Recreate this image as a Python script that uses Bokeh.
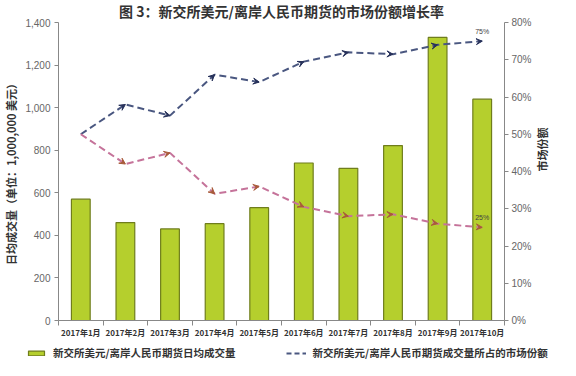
import math
from bokeh.plotting import figure
from bokeh.layouts import column
from bokeh.models import (Range1d, LinearAxis, FixedTicker, PrintfTickFormatter,
                          NumeralTickFormatter, ColumnDataSource, Arrow, VeeHead,
                          Legend, LegendItem)
from bokeh.core.properties import value
from bokeh.embed import file_html
from bokeh.resources import INLINE

# ---------------- data ----------------
months = ["2017年1月", "2017年2月", "2017年3月", "2017年4月", "2017年5月",
          "2017年6月", "2017年7月", "2017年8月", "2017年9月", "2017年10月"]
volume = [570, 460, 430, 455, 530, 740, 715, 822, 1330, 1040]
sgx_share = [50, 58, 55, 66, 64, 69.5, 72, 71.5, 74, 75]
other_share = [50, 42, 45, 34, 36, 30.5, 28, 28.5, 26, 25]
left_ticks = [0, 200, 400, 600, 800, 1000, 1200, 1400]
right_ticks = [0, 10, 20, 30, 40, 50, 60, 70, 80]

title = "图 3：新交所美元/离岸人民币期货的市场份额增长率"
bar_label = "新交所美元/离岸人民币期货日均成交量"
line_label = "新交所美元/离岸人民币期货成交量所占的市场份额"
left_label = "日均成交量（单位：1,000,000 美元）"
right_label = "市场份额"

CJK = "Noto Sans CJK SC"
NUM = "Liberation Sans"

BAR_FILL, BAR_LINE = "#b5cf2d", "#6f7d1c"
BLUE, RED = "#4a5780", "#c5739a"

xs = [i + 0.5 for i in range(len(months))]

p = figure(width=560, height=345, output_backend="svg", toolbar_location=None,
           x_range=Range1d(0, len(months)), y_range=Range1d(0, 1400),
           min_border_left=55, min_border_right=55, min_border_top=19,
           min_border_bottom=25)
p.extra_y_ranges = {"share": Range1d(0, 80)}
p.outline_line_color = None
p.grid.visible = False

p.title.text = title
p.title.align = "center"
p.title.vertical_align = "top"
p.title.text_font = CJK
p.title.text_font_size = "14px"
p.title.text_font_style = "bold"
p.title.text_color = "#333333"
p.title.offset = 0
p.title.standoff = 0

# bars
src = ColumnDataSource(dict(x=xs, v=volume, s1=sgx_share, s2=other_share))
p.vbar(x="x", top="v", width=0.42, source=src, fill_color=BAR_FILL,
       line_color=BAR_LINE, line_width=1.2)

# lines
p.line("x", "s1", source=src, y_range_name="share", line_color=BLUE,
       line_width=2, line_dash="7 4")
p.line("x", "s2", source=src, y_range_name="share", line_color=RED,
       line_width=2, line_dash="7 4")

for ys, col in [(sgx_share, "#27315a"), (other_share, "#a85a3a")]:
    asrc = ColumnDataSource(dict(x0=xs[:-1], y0=ys[:-1], x1=xs[1:], y1=ys[1:]))
    arr = Arrow(end=VeeHead(size=6, fill_color=col, line_color=col, line_width=1),
                x_start="x0", y_start="y0", x_end="x1", y_end="y1",
                source=asrc, line_alpha=0, y_range_name="share")
    p.add_layout(arr)

# end labels
for ys in (sgx_share, other_share):
    p.text(x=[xs[-1]], y=[ys[-1]], text=[f"{ys[-1]:.0f}%"],
           y_range_name="share", text_font=value(NUM), text_font_size="7px",
           text_color="#444444", text_align="center", text_baseline="bottom",
           y_offset=-6)

# x axis
xa = p.xaxis[0]
xa.ticker = FixedTicker(ticks=xs, minor_ticks=list(range(len(months) + 1)))
xa.major_label_overrides = {x: m for x, m in zip(xs, months)}
xa.major_tick_line_color = None
xa.major_tick_out = 0
xa.major_tick_in = 0
xa.minor_tick_out = 5
xa.minor_tick_in = 0
xa.minor_tick_line_color = "#888888"
xa.axis_line_color = "#888888"
xa.major_label_text_font = CJK
xa.major_label_text_font_size = "8px"
xa.major_label_text_font_style = "bold"
xa.major_label_text_color = "#333333"
xa.major_label_standoff = 1

# left axis
ya = p.yaxis[0]
ya.ticker = FixedTicker(ticks=left_ticks)
ya.formatter = NumeralTickFormatter(format="0,0")
ya.axis_line_color = "#888888"
ya.major_tick_line_color = "#888888"
ya.major_tick_out = 4
ya.major_tick_in = 0
ya.minor_tick_line_color = None
ya.major_label_text_font = NUM
ya.major_label_text_font_size = "10px"
ya.major_label_text_color = "#666666"
ya.major_label_standoff = 4
ya.axis_label = left_label
ya.axis_label_text_font = CJK
ya.axis_label_text_font_size = "11px"
ya.axis_label_text_font_style = "bold"
ya.axis_label_text_color = "#333333"
ya.axis_label_standoff = 3

# right axis
ra = LinearAxis(y_range_name="share", ticker=FixedTicker(ticks=right_ticks),
                formatter=PrintfTickFormatter(format="%d%%"))
ra.axis_line_color = "#888888"
ra.major_tick_line_color = "#888888"
ra.major_tick_out = 4
ra.major_tick_in = 0
ra.minor_tick_line_color = None
ra.major_label_text_font = NUM
ra.major_label_text_font_size = "10px"
ra.major_label_text_color = "#666666"
ra.major_label_standoff = 3
ra.axis_label = right_label
ra.axis_label_orientation = math.pi / 2
ra.axis_label_text_font = CJK
ra.axis_label_text_font_size = "11px"
ra.axis_label_text_font_style = "bold"
ra.axis_label_text_color = "#333333"
ra.axis_label_standoff = 7
p.add_layout(ra, "right")

# legend strip (separate figure so the legend can span the full width)
q = figure(width=560, height=15, output_backend="svg", toolbar_location=None,
           x_range=Range1d(0, 1), y_range=Range1d(0, 1),
           x_axis_location=None, y_axis_location=None, min_border=0)
q.frame_align = False
q.outline_line_color = None
q.grid.visible = False
# legend proxies with no drawable position (only their styles are used)
nan = float("nan")
lb = q.vbar(x=[nan], bottom=[nan], top=[nan], width=0.4, fill_color=BAR_FILL,
            line_color=BAR_LINE, line_width=1.2)
ll = q.line(x=[nan, nan], y=[nan, nan], line_color=BLUE, line_width=2,
            line_dash="5 3")
legend = Legend(items=[LegendItem(label=bar_label, renderers=[lb]),
                       LegendItem(label=line_label, renderers=[ll])],
                location=(26, 0), orientation="horizontal",
                border_line_color=None, background_fill_alpha=0,
                padding=0, margin=0, spacing=50, glyph_width=20, glyph_height=6,
                label_standoff=7, label_text_font=CJK,
                label_text_font_size="10.5px", label_text_font_style="bold",
                label_text_color="#333333", label_height=12)
q.add_layout(legend, "center")

open("out.html", "w").write(file_html(column(p, q, spacing=0), INLINE))
